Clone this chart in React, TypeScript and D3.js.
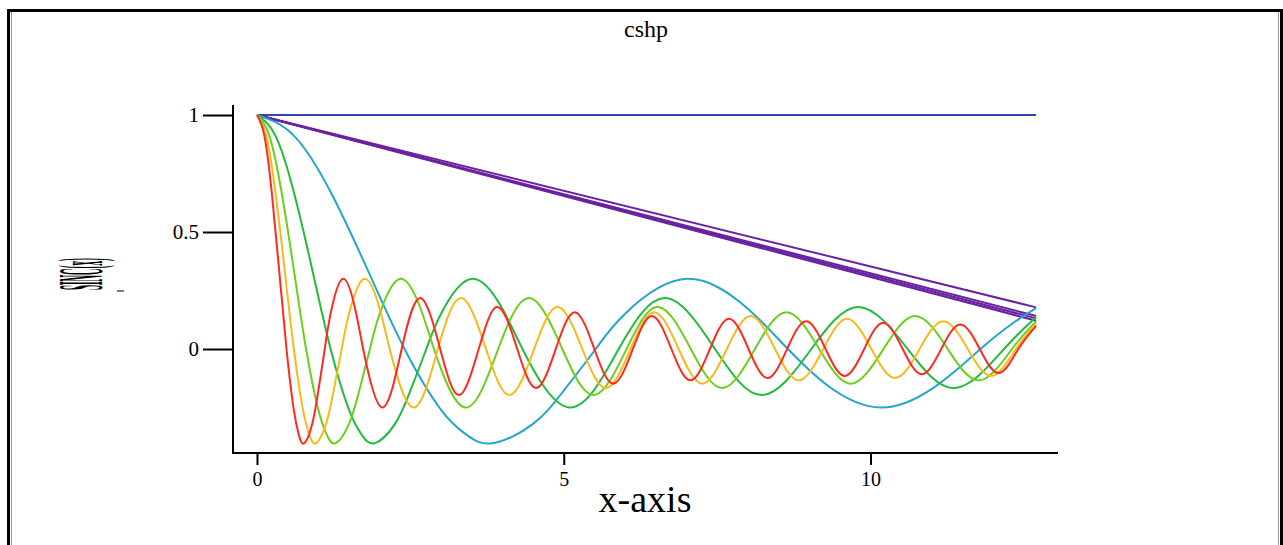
import React, { useEffect, useRef } from 'react';
import * as d3 from 'd3';

// values ([x, y] pairs)
const tealPts: [number, number][] = [
  [0, 1], [0.6, 0.912], [1.2, 0.671], [1.8, 0.34], [2.405, 0], [3.0, -0.26], [3.4, -0.364],
  [3.832, -0.403], [4.5, -0.32], [5.0, -0.178], [5.52, 0], [6.0, 0.151], [7.016, 0.3],
  [8.0, 0.172], [8.654, 0], [10.173, -0.25], [11.792, 0], [12.7, 0.175],
];
const greenPts: [number, number][] = [
  [0, 1], [0.3, 0.912], [0.6, 0.671], [0.9, 0.34], [1.2, 0], [1.5, -0.26], [1.7, -0.364],
  [1.916, -0.403], [2.25, -0.32], [2.5, -0.178], [2.76, 0], [3.0, 0.151], [3.508, 0.3],
  [4.0, 0.172], [4.327, 0], [5.087, -0.25], [5.896, 0], [6.662, 0.218], [7.466, 0],
  [8.236, -0.197], [9.036, 0], [9.808, 0.18], [10.606, 0], [11.38, -0.167], [12.176, 0], [12.7, 0.137],
];
const limePts: [number, number][] = [
  [0, 1], [0.2, 0.912], [0.4, 0.671], [0.6, 0.34], [0.8, 0], [1.0, -0.26], [1.133, -0.364],
  [1.277, -0.403], [1.5, -0.32], [1.667, -0.178], [1.84, 0], [2.0, 0.151], [2.339, 0.3],
  [2.667, 0.172], [2.885, 0], [3.391, -0.25], [3.931, 0], [4.441, 0.218], [4.977, 0],
  [5.49, -0.197], [6.024, 0], [6.539, 0.18], [7.071, 0], [7.587, -0.167], [8.117, 0],
  [8.635, 0.157], [9.164, 0], [9.682, -0.148], [10.212, 0], [10.73, 0.141], [11.259, 0],
  [11.777, -0.134], [12.306, 0], [12.7, 0.119],
];
const orangePts: [number, number][] = [
  [0, 1], [0.15, 0.912], [0.3, 0.671], [0.45, 0.34], [0.601, 0], [0.75, -0.26], [0.85, -0.364],
  [0.958, -0.403], [1.125, -0.32], [1.25, -0.178], [1.38, 0], [1.5, 0.151], [1.754, 0.3],
  [2.0, 0.172], [2.164, 0], [2.543, -0.25], [2.948, 0], [3.331, 0.218], [3.733, 0],
  [4.118, -0.197], [4.518, 0], [4.904, 0.18], [5.303, 0], [5.69, -0.167], [6.088, 0],
  [6.476, 0.157], [6.873, 0], [7.262, -0.148], [7.659, 0], [8.048, 0.141], [8.444, 0],
  [8.833, -0.134], [9.229, 0], [9.619, 0.129], [10.015, 0], [10.404, -0.124], [10.8, 0],
  [11.19, 0.119], [11.585, 0], [11.975, -0.115], [12.371, 0], [12.7, 0.108],
];
const redPts: [number, number][] = [
  [0, 1], [0.12, 0.912], [0.24, 0.671], [0.36, 0.34], [0.481, 0], [0.6, -0.26], [0.68, -0.364],
  [0.766, -0.403], [0.9, -0.32], [1.0, -0.178], [1.104, 0], [1.2, 0.151], [1.403, 0.3],
  [1.6, 0.172], [1.731, 0], [2.035, -0.25], [2.358, 0], [2.665, 0.218], [2.986, 0],
  [3.294, -0.197], [3.614, 0], [3.923, 0.18], [4.242, 0], [4.552, -0.167], [4.87, 0],
  [5.181, 0.157], [5.499, 0], [5.809, -0.148], [6.127, 0], [6.438, 0.141], [6.755, 0],
  [7.066, -0.134], [7.383, 0], [7.695, 0.129], [8.012, 0], [8.323, -0.124], [8.64, 0],
  [8.952, 0.119], [9.268, 0], [9.58, -0.115], [9.897, 0], [10.209, 0.112], [10.525, 0],
  [10.837, -0.108], [11.153, 0], [11.465, 0.105], [11.781, 0], [12.094, -0.103], [12.41, 0],
  [12.7, 0.099],
];
const purpleEnds = [0.178, 0.141, 0.131, 0.121];
const blueLine: [number, number][] = [[0, 1], [12.7, 1]];
const xTicks = [0, 5, 10];
const yTicks = [0, 0.5, 1];

const serif = '"Liberation Serif", "Times New Roman", serif';

function App() {
  const ref = useRef<SVGSVGElement>(null);

  useEffect(() => {
    drawChart();
  }, []);

  function drawChart() {
    const svg = d3.select(ref.current);
    svg.selectAll('*').remove();

    // frame
    svg.append('rect').attr('x', 8.5).attr('y', 10.5).attr('width', 1273).attr('height', 600)
      .attr('fill', 'none').attr('stroke', '#000').attr('stroke-width', 3);
    svg.append('line').attr('x1', 11.5).attr('x2', 11.5).attr('y1', 12).attr('y2', 545)
      .attr('stroke', '#999');
    svg.append('line').attr('x1', 1278.5).attr('x2', 1278.5).attr('y1', 12).attr('y2', 545)
      .attr('stroke', '#999');

    svg.append('text').attr('x', 646).attr('y', 37).attr('text-anchor', 'middle')
      .attr('font-family', serif).attr('font-size', 24).text('cshp');

    const xScale = d3.scaleLinear().domain([0, 10]).range([257, 870.5]);
    const yScale = d3.scaleLinear().domain([0, 1]).range([349, 115]);

    // axes
    const yAxis = svg.append('g').attr('transform', 'translate(233,0)')
      .call(d3.axisLeft(yScale).tickValues(yTicks).tickSize(30).tickPadding(4).tickFormat(d3.format('')));
    yAxis.select('.domain').remove();
    yAxis.selectAll('line').attr('stroke-width', 2);
    yAxis.selectAll('text').attr('font-family', serif).attr('font-size', 21).attr('fill', '#000');
    svg.append('line').attr('x1', 233).attr('x2', 233).attr('y1', 105).attr('y2', 454)
      .attr('stroke', '#000').attr('stroke-width', 2);

    const xAxis = svg.append('g').attr('transform', 'translate(0,453)')
      .call(d3.axisBottom(xScale).tickValues(xTicks).tickSize(12).tickPadding(7));
    xAxis.select('.domain').remove();
    xAxis.selectAll('line').attr('stroke-width', 2);
    xAxis.selectAll('text').attr('font-family', serif).attr('font-size', 20).attr('fill', '#000');
    svg.append('line').attr('x1', 232).attr('x2', 1058).attr('y1', 453).attr('y2', 453)
      .attr('stroke', '#000').attr('stroke-width', 2);

    svg.append('text').attr('x', 645).attr('y', 512).attr('text-anchor', 'middle')
      .attr('font-family', serif).attr('font-size', 38).text('x-axis');

    // squashed y label
    svg.append('text').attr('transform', 'translate(80,274) rotate(-90) scale(1,7)')
      .attr('text-anchor', 'middle').attr('dy', '0.35em').attr('font-weight', 'bold')
      .attr('font-family', serif).attr('font-size', 9).text('SINC(x)');
    svg.append('line').attr('x1', 117).attr('x2', 124).attr('y1', 291).attr('y2', 291)
      .attr('stroke', '#000');

    const line = d3.line<[number, number]>()
      .x(d => xScale(d[0]))
      .y(d => yScale(d[1]))
      .curve(d3.curveNatural);
    const straight = d3.line<[number, number]>()
      .x(d => xScale(d[0]))
      .y(d => yScale(d[1]));

    const plot = svg.append('g').attr('fill', 'none').attr('stroke-width', 2);
    plot.append('path').attr('d', straight(blueLine)).attr('stroke', '#3442b4');
    purpleEnds.forEach(v => {
      plot.append('path').attr('d', straight([[0, 1], [12.7, v]])).attr('stroke', '#6a22a2');
    });
    const series: [[number, number][], string][] = [
      [tealPts, '#25a6c6'],
      [greenPts, '#22bb3c'],
      [limePts, '#6ccf1e'],
      [orangePts, '#f7ba1c'],
      [redPts, '#ff2a1e'],
    ];
    series.forEach(([pts, c]) => {
      plot.append('path').attr('d', line(pts)).attr('stroke', c);
    });
  }

  return (
    <svg ref={ref} width={1283} height={545}
      style={{ position: 'absolute', left: 0, top: 0, background: '#fff' }} />
  );
}

export default App;
